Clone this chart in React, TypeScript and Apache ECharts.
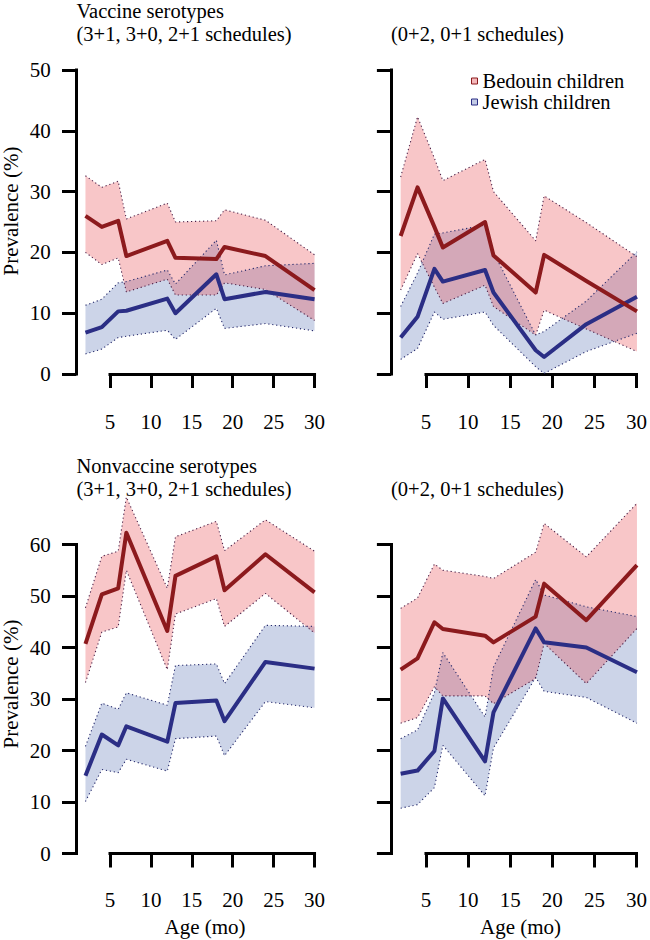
import React, { useEffect, useRef } from "react";
import * as echarts from "echarts";

// ---------- data ----------
const ages = [2, 4, 6, 7, 12, 13, 18, 19, 24, 30];
const xTickMin = 5;
const xTickMax = 30;
const xTickStep = 5;
const yTickStep = 10;
const yTickMaxTop = 50;
const yTickMaxBottom = 60;

// Vaccine serotypes, 3+1 / 3+0 / 2+1 schedules
const tlBed = [26.0, 24.2, 25.2, 19.4, 21.9, 19.1, 18.9, 20.9, 19.4, 13.8];
const tlBedHi = [32.6, 30.7, 31.7, 25.5, 28.1, 25.0, 25.2, 27.0, 25.3, 19.6];
const tlBedLo = [20.0, 18.0, 19.1, 13.5, 15.6, 13.0, 13.0, 15.0, 13.9, 8.8];
const tlJew = [6.8, 7.7, 10.3, 10.4, 12.4, 10.0, 16.4, 12.3, 13.5, 12.3];
const tlJewHi = [11.3, 12.3, 15.0, 15.2, 17.1, 14.8, 22.0, 16.3, 17.8, 18.2];
const tlJewLo = [3.3, 4.1, 6.0, 6.2, 7.2, 5.7, 10.8, 7.5, 8.3, 7.1];

// Vaccine serotypes, 0+2 / 0+1 schedules
const trBed = [22.7, 30.7, 24.2, 20.8, 25.0, 19.5, 13.4, 19.6, 15.3, 10.3];
const trBedHi = [32.4, 42.3, 35.5, 31.8, 35.3, 30.0, 21.9, 29.3, 24.9, 19.3];
const trBedLo = [13.8, 19.8, 14.3, 11.6, 14.6, 11.1, 6.4, 10.5, 7.4, 3.7];
const trJew = [6.0, 9.4, 17.3, 15.2, 17.1, 13.4, 3.9, 2.8, 8.2, 12.7];
const trJewHi = [11.1, 16.6, 23.0, 23.2, 24.5, 20.0, 6.4, 7.0, 12.0, 20.1];
const trJewLo = [2.4, 4.2, 10.2, 9.0, 10.2, 8.0, 1.2, 0.1, 3.7, 6.7];

// Nonvaccine serotypes, 3+1 / 3+0 / 2+1 schedules
const blBed = [40.7, 50.3, 51.5, 62.3, 43.2, 53.9, 57.7, 51.1, 58.1, 50.7];
const blBedHi = [47.7, 57.7, 58.7, 69.2, 51.5, 61.5, 64.5, 58.8, 64.8, 58.7];
const blBedLo = [33.2, 43.0, 44.0, 55.0, 35.7, 46.5, 49.5, 44.1, 50.5, 42.8];
const blJew = [15.1, 23.1, 21.0, 24.7, 21.7, 29.2, 29.7, 25.7, 37.2, 35.9];
const blJewHi = [20.8, 29.2, 28.0, 31.2, 28.8, 36.5, 36.8, 33.0, 44.3, 44.1];
const blJewLo = [10.1, 16.3, 15.7, 18.3, 16.0, 22.3, 22.8, 19.0, 29.5, 28.3];

// Nonvaccine serotypes, 0+2 / 0+1 schedules
const brBed = [35.7, 37.9, 44.9, 43.6, 42.3, 41.0, 46.0, 52.4, 45.3, 56.0];
const brBedHi = [47.6, 49.6, 56.2, 55.0, 53.8, 53.4, 58.5, 64.1, 57.6, 68.0];
const brBedLo = [25.3, 26.4, 32.4, 30.6, 30.6, 29.1, 34.0, 40.8, 33.0, 43.7];
const brJew = [15.5, 16.1, 19.9, 30.1, 17.9, 27.4, 43.7, 41.0, 40.0, 35.2];
const brJewHi = [22.3, 24.0, 31.2, 39.0, 26.5, 36.2, 53.2, 50.2, 47.9, 46.0];
const brJewLo = [8.8, 9.5, 12.8, 21.0, 11.2, 20.5, 34.2, 31.5, 30.3, 25.3];

const seriesNames = ["Bedouin children", "Jewish children"];
const titleVaccine = ["Vaccine serotypes", "(3+1, 3+0, 2+1 schedules)"];
const titleNonvaccine = ["Nonvaccine serotypes", "(3+1, 3+0, 2+1 schedules)"];
const titleRight = "(0+2, 0+1 schedules)";
const yName = "Prevalence (%)";
const xName = "Age (mo)";

// ---------- layout / style ----------
const FONT = "Liberation Serif";
const FS = 21;
const TITLE_FS = 20.5;
const TITLE_LH = 22.8;
const X_MIN = 0.88;
const X_MAX = 31.12;
const COLS = [
  { left: 76.3, right: 323.7, showYLabels: true },
  { left: 391.2, right: 646.4, showYLabels: false },
];
const ROWS = [
  { zeroY: 374, ppu: 6.08, yMin: -2, yMax: 52, tickMax: yTickMaxTop, xLabelMargin: 25.5 },
  { zeroY: 853.5, ppu: 5.15, yMin: -2.8, yMax: 72, tickMax: yTickMaxBottom, xLabelMargin: 21.5 },
];
const BED_LINE = "#8c1a1d";
const JEW_LINE = "#2b2e85";
const BED_FILL = "rgba(232,65,72,0.30)";
const JEW_FILL = "rgba(85,112,178,0.30)";
const BED_DOT = "#4a2048";
const JEW_DOT = "#262a6c";

const panels = [
  { row: 0, col: 0, bed: tlBed, bedHi: tlBedHi, bedLo: tlBedLo, jew: tlJew, jewHi: tlJewHi, jewLo: tlJewLo },
  { row: 0, col: 1, bed: trBed, bedHi: trBedHi, bedLo: trBedLo, jew: trJew, jewHi: trJewHi, jewLo: trJewLo },
  { row: 1, col: 0, bed: blBed, bedHi: blBedHi, bedLo: blBedLo, jew: blJew, jewHi: blJewHi, jewLo: blJewLo },
  { row: 1, col: 1, bed: brBed, bedHi: brBedHi, bedLo: brBedLo, jew: brJew, jewHi: brJewHi, jewLo: brJewLo },
];

function buildOption() {
  const grid: any[] = [];
  const xAxis: any[] = [];
  const yAxis: any[] = [];
  const series: any[] = [];

  panels.forEach((p) => {
    const c = COLS[p.col];
    const r = ROWS[p.row];
    const plotTop = r.zeroY - r.yMax * r.ppu;
    const plotBottom = r.zeroY - r.yMin * r.ppu;
    const px = (m: number) => c.left + ((m - X_MIN) / (X_MAX - X_MIN)) * (c.right - c.left);
    const py = (v: number) => r.zeroY - v * r.ppu;

    // data grid
    const gi = grid.length;
    grid.push({ left: c.left, top: plotTop, width: c.right - c.left, height: plotBottom - plotTop });
    xAxis.push({ gridIndex: gi, type: "value", min: X_MIN, max: X_MAX, show: false });
    yAxis.push({ gridIndex: gi, type: "value", min: r.yMin, max: r.yMax, show: false });

    // axis grid (R style axes spanning the tick range only)
    const ai = grid.length;
    const axTop = py(r.tickMax);
    const axBottom = py(0);
    grid.push({ left: px(xTickMin), top: axTop, width: px(xTickMax) - px(xTickMin), height: axBottom - axTop });
    xAxis.push({
      gridIndex: ai,
      type: "value",
      min: xTickMin,
      max: xTickMax,
      interval: xTickStep,
      position: "bottom",
      offset: plotBottom - axBottom,
      axisLine: { show: true, lineStyle: { color: "#000", width: 3, cap: "square" } },
      axisTick: { show: true, inside: false, length: 14, lineStyle: { color: "#000", width: 3 } },
      axisLabel: { show: true, color: "#000", fontFamily: FONT, fontSize: FS, margin: r.xLabelMargin },
      splitLine: { show: false },
    });
    yAxis.push({
      gridIndex: ai,
      type: "value",
      min: 0,
      max: r.tickMax,
      interval: yTickStep,
      position: "left",
      offset: px(xTickMin) - c.left,
      axisLine: { show: true, lineStyle: { color: "#000", width: 3, cap: "square" } },
      axisTick: { show: true, inside: false, length: 14.3, lineStyle: { color: "#000", width: 3 } },
      axisLabel: { show: c.showYLabels, color: "#000", fontFamily: FONT, fontSize: FS, margin: 25.6 },
      splitLine: { show: false },
    });

    const band = (name: string, hi: number[], lo: number[], fill: string, z: number) => ({
      type: "custom",
      name,
      xAxisIndex: gi,
      yAxisIndex: gi,
      silent: true,
      z,
      data: [[ages[0], lo[0]]],
      renderItem: (_params: any, api: any) => {
        const pts: number[][] = [];
        for (let k = 0; k < ages.length; k++) pts.push(api.coord([ages[k], hi[k]]));
        for (let k = ages.length - 1; k >= 0; k--) pts.push(api.coord([ages[k], lo[k]]));
        return { type: "polygon", shape: { points: pts }, style: { fill, stroke: "none" } };
      },
    });
    const line = (name: string, vals: number[], color: string, dotted: boolean, z: number) => ({
      type: "line",
      name,
      xAxisIndex: gi,
      yAxisIndex: gi,
      silent: true,
      z,
      symbol: "none",
      data: ages.map((a, k) => [a, vals[k]]),
      lineStyle: dotted
        ? { color, width: 1.1, type: [1.2, 2.8], cap: "butt" }
        : { color, width: 4, join: "round", cap: "butt" },
    });

    series.push(band(seriesNames[1], p.jewHi, p.jewLo, JEW_FILL, 1));
    series.push(band(seriesNames[0], p.bedHi, p.bedLo, BED_FILL, 2));
    series.push(line(seriesNames[1] + " upper", p.jewHi, JEW_DOT, true, 3));
    series.push(line(seriesNames[1] + " lower", p.jewLo, JEW_DOT, true, 3));
    series.push(line(seriesNames[0] + " upper", p.bedHi, BED_DOT, true, 3));
    series.push(line(seriesNames[0] + " lower", p.bedLo, BED_DOT, true, 3));
    series.push(line(seriesNames[1] + " line", p.jew, JEW_LINE, false, 4));
    series.push(line(seriesNames[0] + " line", p.bed, BED_LINE, false, 5));
  });

  const txt = (text: string, x: number, y: number, extra: any = {}) => {
    const { align, verticalAlign, lineHeight, fontSize, ...rest } = extra;
    return {
      type: "text",
      x,
      y,
      silent: true,
      ...rest,
      style: {
        text,
        fill: "#000",
        fontFamily: FONT,
        fontSize: fontSize || FS,
        lineHeight: lineHeight || fontSize || FS,
        align: align || "left",
        verticalAlign: verticalAlign || "middle",
      },
    };
  };

  const graphic = [
    txt(titleVaccine.join("\n"), 76.5, 10.9 - TITLE_LH / 2, { verticalAlign: "top", lineHeight: TITLE_LH, fontSize: TITLE_FS }),
    txt(titleRight, 391, 33.7, { fontSize: TITLE_FS }),
    txt(titleNonvaccine.join("\n"), 76.5, 466.1 - TITLE_LH / 2, { verticalAlign: "top", lineHeight: TITLE_LH, fontSize: TITLE_FS }),
    txt(titleRight, 391, 488.9, { fontSize: TITLE_FS }),
    txt(yName, 11, 211, { rotation: Math.PI / 2, align: "center" }),
    txt(yName, 11, 684, { rotation: Math.PI / 2, align: "center" }),
    txt(xName, 205, 926.7, { align: "center" }),
    txt(xName, 520.5, 926.7, { align: "center" }),
  ];

  return {
    animation: false,
    backgroundColor: "#fff",
    grid,
    xAxis,
    yAxis,
    series,
    graphic,
    legend: {
      orient: "vertical",
      left: 471,
      top: 70.5,
      padding: 0,
      itemWidth: 6,
      itemHeight: 6,
      itemGap: 0,
      selectedMode: false,
      textStyle: { fontFamily: FONT, fontSize: 20.5, color: "#000", lineHeight: 18.3 },
      data: [
        { name: seriesNames[0], icon: "rect", itemStyle: { color: "#f4b8bb", borderColor: BED_LINE, borderWidth: 1 } },
        { name: seriesNames[1], icon: "rect", itemStyle: { color: "#c3cbe6", borderColor: JEW_LINE, borderWidth: 1 } },
      ],
    },
  };
}

export default function App() {
  const ref = useRef<HTMLDivElement>(null);
  useEffect(() => {
    if (!ref.current) return;
    const chart = echarts.init(ref.current, undefined, { renderer: "svg" });
    chart.setOption(buildOption() as any);
    return () => chart.dispose();
  }, []);
  return (
    <div
      ref={ref}
      style={{ position: "absolute", left: 0, top: 0, width: 650, height: 940, background: "#fff" }}
    />
  );
}
